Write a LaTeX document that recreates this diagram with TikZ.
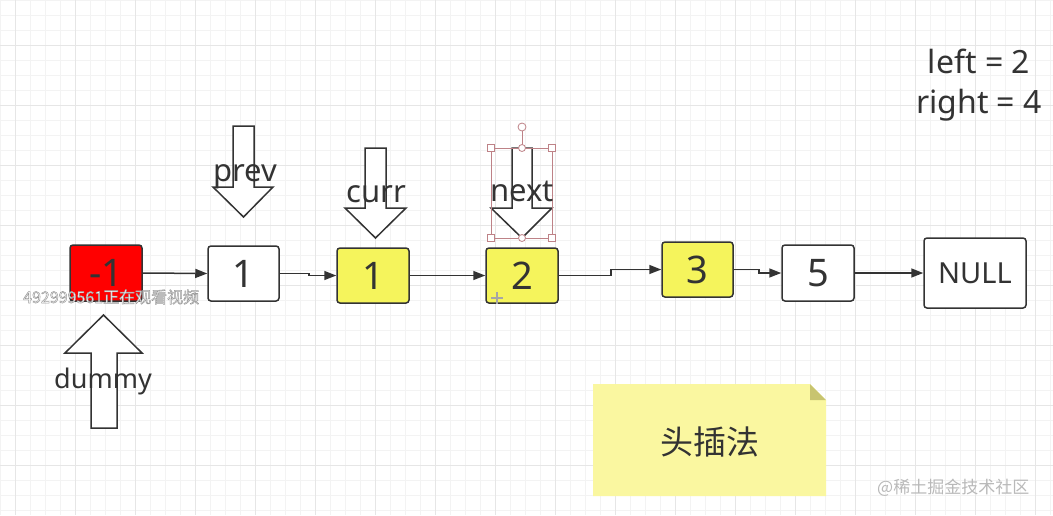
\documentclass[tikz,border=0pt]{standalone}
\usepackage{fontspec}
\setmainfont{Noto Sans}
\newfontfamily\cjk{Noto Sans CJK SC}
\usetikzlibrary{arrows.meta}
\definecolor{ink}{RGB}{51,51,51}
\definecolor{redfill}{RGB}{255,0,0}
\definecolor{yel}{RGB}{245,244,92}
\definecolor{note}{RGB}{250,247,160}
\definecolor{fold}{RGB}{200,196,112}
\definecolor{gridminor}{RGB}{243,243,243}
\definecolor{gridmajor}{RGB}{230,230,230}
\definecolor{sel}{RGB}{190,130,135}
\tikzset{
  listbox/.style={draw=ink, line width=1.5pt, rounded corners=3pt, inner sep=0pt, text=ink},
  link/.style={draw=ink, line width=1.5pt, -{Triangle[length=12pt,width=9pt]}},
  blockarrow/.style={draw=ink, fill=white, line width=1.5pt, line join=miter},
  ptrlabel/.style={text=ink, font=\fontsize{31}{31}\selectfont, anchor=base, inner sep=0pt},
  numtext/.style={font=\fontsize{38}{38}\selectfont},
  handle/.style={draw=sel, fill=white, line width=0.8pt},
}
\begin{document}
\begin{tikzpicture}[x=1pt,y=-1pt]
\useasboundingbox (0,0) rectangle (1053,515);
\fill[white] (0,0) rectangle (1053,515);
% grid
\foreach \x in {0,15,...,1050} \draw[gridminor, line width=0.8pt] (\x,0) -- (\x,515);
\foreach \y in {0,15,...,510} \draw[gridminor, line width=0.8pt] (0,\y) -- (1053,\y);
\foreach \x in {15,75,...,1050} \draw[gridmajor, line width=1pt] (\x,0) -- (\x,515);
\foreach \y in {45,105,...,510} \draw[gridmajor, line width=1pt] (0,\y) -- (1053,\y);

% list nodes
\node[listbox, fill=redfill, minimum width=72pt, minimum height=56pt, numtext] (n0) at (106,273) {-1};
\node[listbox, fill=white, minimum width=71pt, minimum height=55pt, numtext] (n1) at (243.5,273.5) {1};
\node[listbox, fill=yel, minimum width=72pt, minimum height=55pt, numtext] (n2) at (373,275.5) {1};
\node[listbox, fill=yel, minimum width=72pt, minimum height=55pt, numtext] (n3) at (522,275.5) {2};
\node[listbox, fill=yel, minimum width=71pt, minimum height=55pt, numtext] (n4) at (697.5,269.5) {3};
\node[listbox, fill=white, minimum width=72pt, minimum height=56pt, numtext] (n5) at (818,273) {5};
\node[listbox, fill=white, minimum width=102pt, minimum height=70pt, font=\fontsize{29}{29}\selectfont] (n6) at (975,273) {NULL};

% connectors
\draw[link] (n0.east) -- (n1.west);
\draw[link] (n1.east) -- ++(29,0) |- (n2.west);
\draw[link] (n2.east) -- (n3.west);
\draw[link] (n3.east) -- ++(52,0) |- (n4.west);
\draw[link] (n4.east) -- ++(25,0) |- (n5.west);
\draw[link] (n5.east) -- (n6.west);

% block arrows
\draw[blockarrow] (233,126) -- (254,126) -- (254,187) -- (273,187) -- (243.5,217) -- (213,187) -- (233,187) -- cycle;
\draw[blockarrow] (365,148) -- (386,148) -- (386,208) -- (406,208) -- (375.5,238) -- (345,208) -- (365,208) -- cycle;
\draw[blockarrow] (512,148) -- (532,148) -- (532,208) -- (552,208) -- (522,238) -- (491,208) -- (512,208) -- cycle;
\draw[blockarrow] (103.5,315) -- (142,353) -- (117,353) -- (117,428) -- (91,428) -- (91,353) -- (65,353) -- cycle;

% selection handles on the "next" arrow
\draw[sel, line width=0.6pt] (491,148) rectangle (552,238);
\draw[sel, line width=0.8pt] (522,131) -- (522,148);
\draw[handle] (522,127) circle (4pt);
\draw[handle] (522,148) circle (3.5pt);
\draw[handle] (522,238) circle (3.5pt);
\foreach \hx/\hy in {491/148,552/148,491/238,552/238}
  \draw[handle] (\hx-3.5,\hy-3.5) rectangle (\hx+3.5,\hy+3.5);

% pointer labels
\node[ptrlabel] (lprev) at (245,181) {prev};
\node[ptrlabel] (lcurr) at (376,202) {curr};
\node[ptrlabel] (lnext) at (522,201) {next};
\node[ptrlabel, font=\fontsize{27}{27}\selectfont] (ldummy) at (103,388) {dummy};

% cursor mark
\draw[gray!70, line width=1.2pt] (491,298) -- (503,298) (497,292) -- (497,304);

% left / right
\node[text=ink, font=\fontsize{32}{32}\selectfont, anchor=base, inner sep=0pt] (lt) at (979,73) {left = 2};
\node[text=ink, font=\fontsize{32}{32}\selectfont, anchor=base, inner sep=0pt] (rt) at (979,113) {right = 4};

% sticky note
\fill[note] (593,384) -- (810,384) -- (826,400) -- (826,496) -- (593,496) -- cycle;
\fill[fold] (810,384) -- (826,400) -- (810,400) -- cycle;
\node[text=ink, font=\cjk\fontsize{33}{33}\selectfont, inner sep=0pt] (note) at (709.5,442) {头插法};

% overlay texts
\node[text=white, font=\cjk\fontsize{16}{16}\selectfont, anchor=base west, inner sep=0pt] (wm0) at (23,303)
  {\special{pdf:code q 2 Tr 0.5 w 0.6 G}492999561正在观看视频\special{pdf:code Q}};
\node[text=gray!55, font=\cjk\fontsize{17}{17}\selectfont, anchor=west, inner sep=0pt] (wm1) at (877,488) {@稀土掘金技术社区};
\end{tikzpicture}
\end{document}
